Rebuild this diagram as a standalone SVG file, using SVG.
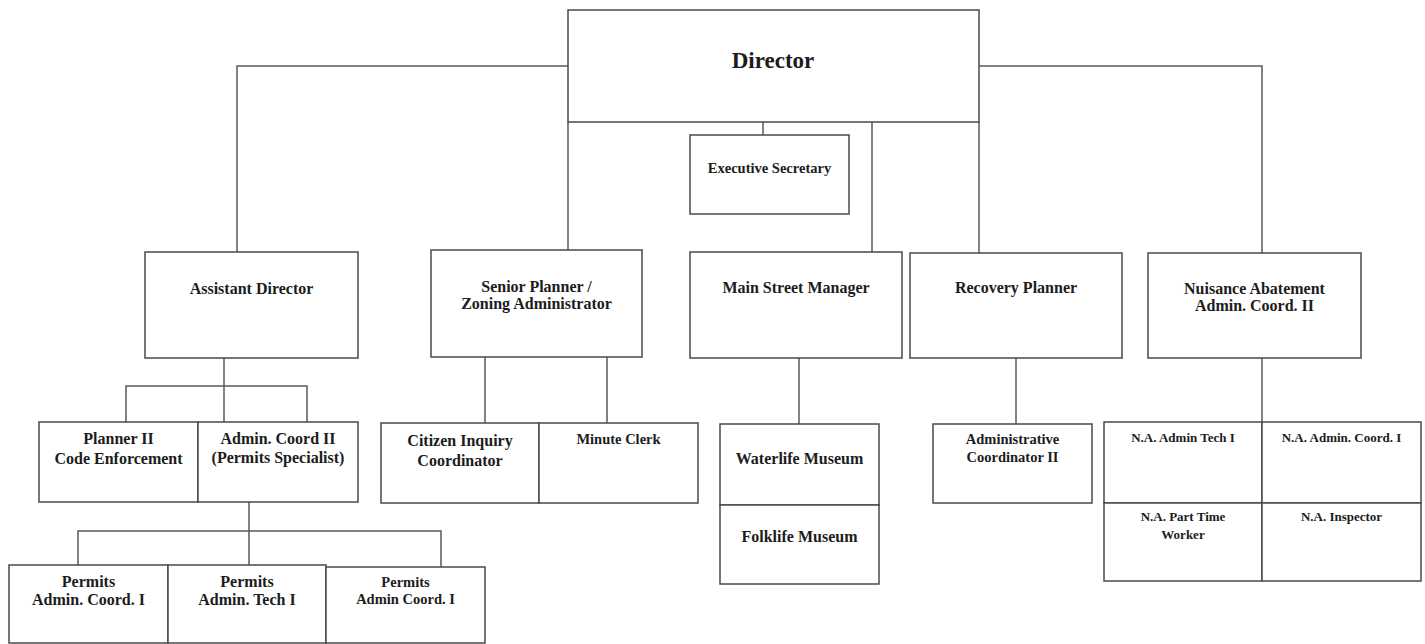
<svg xmlns="http://www.w3.org/2000/svg" width="1425" height="644" viewBox="0 0 1425 644">
<style>
rect{fill:#fff;stroke:#4a4a4a;stroke-width:1.5}
#connectors path{fill:none;stroke:#5a5a5a;stroke-width:1.5}
text{font-family:"Liberation Serif","Times New Roman",serif;font-weight:bold;fill:#1c1c1c;text-anchor:middle;font-size:16px}
.s{font-size:14.5px}
.xs{font-size:13px}
</style>
<rect x="0" y="0" width="1425" height="644" style="fill:#fff;stroke:none"/>
<g id="connectors">
<path d="M568 66H237V252"/>
<path d="M979 66H1262V253"/>
<path d="M568 122V250"/>
<path d="M763 122V135"/>
<path d="M872 122V252"/>
<path d="M979 122V253"/>
<path d="M224 358V386M126 422V386H307V422M224 386V422"/>
<path d="M249 502V531M78 565V531H441V567M249 531V565"/>
<path d="M485 357V423M607 357V423"/>
<path d="M799 358V424"/>
<path d="M1016 358V424"/>
<path d="M1262 358V422"/>
</g>
<g id="director"><rect x="568" y="10" width="411" height="112"/><text x="773" y="68" style="font-size:23px">Director</text></g>
<g id="exec-secretary"><rect x="690" y="135" width="159" height="79"/><text class="s" x="769.5" y="173">Executive Secretary</text></g>
<g id="assistant-director"><rect x="145" y="252" width="213" height="106"/><text x="251.5" y="294">Assistant Director</text></g>
<g id="senior-planner"><rect x="431" y="250" width="211" height="107"/><text x="536.5" y="292">Senior Planner /</text><text x="536.5" y="309">Zoning Administrator</text></g>
<g id="main-street-manager"><rect x="690" y="252" width="212" height="106"/><text x="796" y="293">Main Street Manager</text></g>
<g id="recovery-planner"><rect x="910" y="253" width="212" height="105"/><text x="1016" y="293">Recovery Planner</text></g>
<g id="nuisance-abatement"><rect x="1148" y="253" width="213" height="105"/><text x="1254.5" y="294">Nuisance Abatement</text><text x="1254.5" y="311">Admin. Coord. II</text></g>
<g id="planner-ii"><rect x="39" y="422" width="159" height="80"/><text x="118.5" y="444">Planner II</text><text x="118.5" y="464">Code Enforcement</text></g>
<g id="admin-coord-ii"><rect x="198" y="422" width="160" height="80"/><text x="278" y="444">Admin. Coord II</text><text x="278" y="463">(Permits Specialist)</text></g>
<g id="citizen-inquiry"><rect x="381" y="423" width="158" height="80"/><text x="460" y="446">Citizen Inquiry</text><text x="460" y="466">Coordinator</text></g>
<g id="minute-clerk"><rect x="539" y="423" width="159" height="80"/><text class="s" x="618.5" y="444">Minute Clerk</text></g>
<g id="waterlife-museum"><rect x="720" y="424" width="159" height="81"/><text x="799.5" y="464">Waterlife Museum</text></g>
<g id="folklife-museum"><rect x="720" y="505" width="159" height="79"/><text x="799.5" y="542">Folklife Museum</text></g>
<g id="admin-coordinator-ii"><rect x="933" y="424" width="159" height="79"/><text class="s" x="1012.5" y="444">Administrative</text><text class="s" x="1012.5" y="462">Coordinator II</text></g>
<g id="na-admin-tech"><rect x="1104" y="422" width="158" height="81"/><text class="xs" x="1183" y="442">N.A. Admin Tech I</text></g>
<g id="na-admin-coord"><rect x="1262" y="422" width="159" height="81"/><text class="xs" x="1341.5" y="442">N.A. Admin. Coord. I</text></g>
<g id="na-part-time"><rect x="1104" y="503" width="158" height="78"/><text class="xs" x="1183" y="521">N.A. Part Time</text><text class="xs" x="1183" y="539">Worker</text></g>
<g id="na-inspector"><rect x="1262" y="503" width="159" height="78"/><text class="xs" x="1341.5" y="521">N.A. Inspector</text></g>
<g id="permits-admin-coord-1"><rect x="9" y="565" width="159" height="78"/><text x="88.5" y="587">Permits</text><text x="88.5" y="605">Admin. Coord. I</text></g>
<g id="permits-admin-tech-1"><rect x="168" y="565" width="158" height="78"/><text x="247" y="587">Permits</text><text x="247" y="605">Admin. Tech I</text></g>
<g id="permits-admin-coord-1b"><rect x="326" y="567" width="159" height="76"/><text class="s" x="405.5" y="587">Permits</text><text class="s" x="405.5" y="604">Admin Coord. I</text></g>
</svg>
